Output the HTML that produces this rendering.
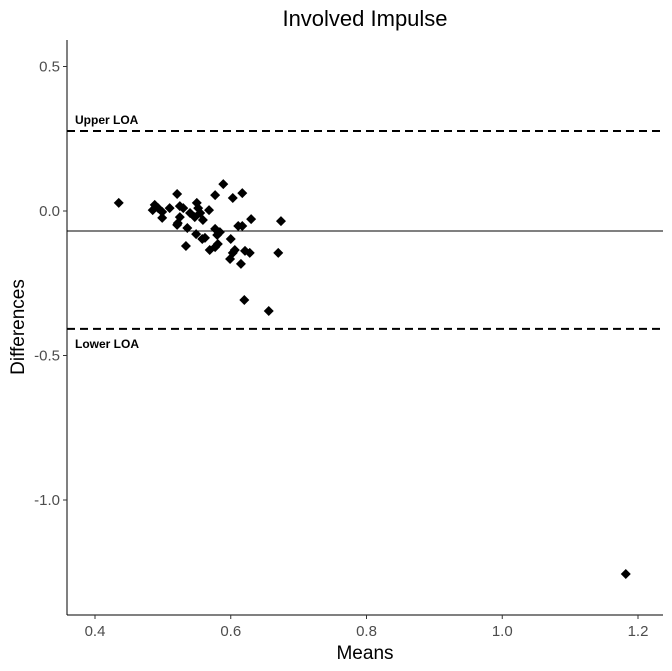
<!DOCTYPE html>
<html><head><meta charset="utf-8"><style>
body{margin:0;background:#fff}
svg{display:block;font-family:"Liberation Sans",sans-serif}
</style></head><body>
<svg id="chart" width="672" height="671">
<text x="365" y="26" text-anchor="middle" font-size="22" fill="#000">Involved Impulse</text>
<text x="365" y="659" text-anchor="middle" font-size="19" fill="#000">Means</text>
<text transform="translate(24,327) rotate(-90)" text-anchor="middle" font-size="19" fill="#000">Differences</text>
<g id="ax"></g>
<g id="marks"></g>
</svg>
<script>
const meansX=[0.435,0.521,0.589,0.577,0.603,0.617,0.488,0.493,0.485,0.499,0.499,0.510,0.525,0.530,0.550,0.552,0.568,0.540,0.547,0.555,0.559,0.525,0.522,0.521,0.536,0.577,0.584,0.580,0.611,0.617,0.630,0.674,0.549,0.558,0.562,0.600,0.534,0.569,0.577,0.581,0.606,0.603,0.621,0.628,0.599,0.615,0.670,0.620,0.656,1.182];
const diffsY=[0.028,0.059,0.093,0.055,0.045,0.062,0.021,0.010,0.003,-0.003,-0.024,0.010,0.017,0.010,0.028,0.010,0.003,-0.007,-0.021,-0.007,-0.031,-0.021,-0.042,-0.048,-0.059,-0.062,-0.073,-0.083,-0.052,-0.052,-0.028,-0.035,-0.080,-0.097,-0.093,-0.097,-0.121,-0.135,-0.125,-0.114,-0.135,-0.145,-0.138,-0.145,-0.166,-0.183,-0.145,-0.308,-0.346,-1.256];
const meanDiff=-0.069;
const upperLOA=0.277;
const lowerLOA=-0.408;
const xTicks=[0.4,0.6,0.8,1.0,1.2];
const xTickLabels=["0.4","0.6","0.8","1.0","1.2"];
const yTicks=[0.5,0.0,-0.5,-1.0];
const yTickLabels=["0.5","0.0","-0.5","-1.0"];
const L=67,R=663,T=40,B=615;
const sx=v=>95+(v-0.4)*678.75;
const sy=v=>211-v*289;
const NS="http://www.w3.org/2000/svg";
const ax=document.getElementById('ax'),mk=document.getElementById('marks');
function mkEl(t,a,p){const e=document.createElementNS(NS,t);for(const k in a)e.setAttribute(k,a[k]);p.appendChild(e);return e;}
let e=mkEl('line',{x1:L,y1:T,x2:L,y2:B,stroke:'#000','stroke-width':1},ax);


e=mkEl('line',{x1:L,y1:B,x2:R,y2:B,stroke:'#000','stroke-width':1},ax);


xTicks.forEach((v,i)=>{
 const t=mkEl('line',{x1:sx(v),y1:B,x2:sx(v),y2:B+4,stroke:'#333'},ax);
 
 
 const l=mkEl('text',{x:sx(v),y:B+21,'text-anchor':'middle','font-size':15,fill:'#4d4d4d'},ax);
 l.textContent=xTickLabels[i];
 
 
});
yTicks.forEach((v,i)=>{
 const t=mkEl('line',{x1:L-4,y1:sy(v),x2:L,y2:sy(v),stroke:'#333'},ax);
 
 
 const l=mkEl('text',{x:L-7,y:sy(v)+5,'text-anchor':'end','font-size':15,fill:'#4d4d4d'},ax);
 l.textContent=yTickLabels[i];
 
 
});
e=mkEl('line',{x1:L,y1:sy(meanDiff),x2:R,y2:sy(meanDiff),stroke:'#000','stroke-width':1},mk);


e=mkEl('line',{x1:L,y1:sy(upperLOA),x2:R,y2:sy(upperLOA),stroke:'#000','stroke-width':2,'stroke-dasharray':'8,5'},mk);


e=mkEl('line',{x1:L,y1:sy(lowerLOA),x2:R,y2:sy(lowerLOA),stroke:'#000','stroke-width':2,'stroke-dasharray':'8,5'},mk);


e=mkEl('text',{x:75,y:sy(upperLOA)-7,'font-size':12,'font-weight':'bold',fill:'#000'},mk);
e.textContent='Upper LOA';


e=mkEl('text',{x:75,y:sy(lowerLOA)+19,'font-size':12,'font-weight':'bold',fill:'#000'},mk);
e.textContent='Lower LOA';


meansX.forEach((m,i)=>{
 const x=sx(m),y=sy(diffsY[i]),r=5;
 const p=mkEl('polygon',{points:`${x},${y-r} ${x+r},${y} ${x},${y+r} ${x-r},${y}`,fill:'#000'},mk);
 
 
});
</script>
</body></html>
